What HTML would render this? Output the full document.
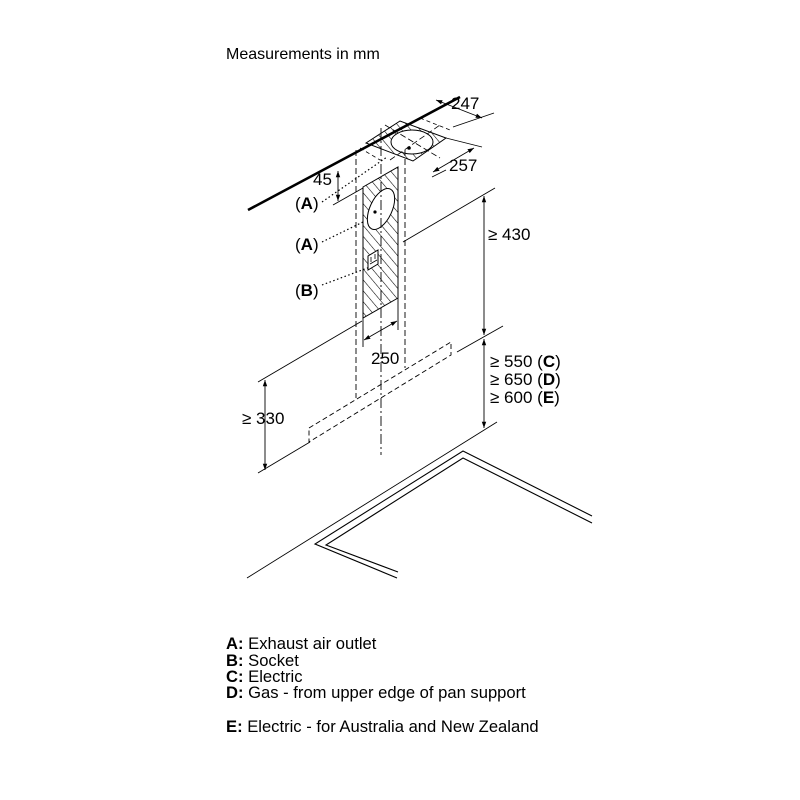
<!DOCTYPE html>
<html><head><meta charset="utf-8"><style>
html,body{margin:0;padding:0;background:#fff;}
svg{display:block;}
text{font-family:"Liberation Sans",Arial,sans-serif;fill:#000;}
</style></head><body>
<svg width="800" height="800" viewBox="0 0 800 800" xmlns="http://www.w3.org/2000/svg">
<defs>
<pattern id="h" patternUnits="userSpaceOnUse" width="7" height="7" patternTransform="rotate(-40)">
<line x1="0" y1="0" x2="0" y2="7" stroke="#000" stroke-width="1.1"/>
</pattern>
<marker id="ar" viewBox="0 0 10 10" refX="10" refY="5" markerWidth="7" markerHeight="7" orient="auto-start-reverse"><path d="M0,1.5 L10,5 L0,8.5 z" fill="#000"/></marker>
</defs>
<text x="226" y="59" font-size="16">Measurements in mm</text>

<!-- ceiling -->
<line x1="248" y1="210" x2="460" y2="97" stroke="#000" stroke-width="2.6"/>
<!-- ceiling plate -->
<polygon points="366,143 400,121 446,138 413,161" fill="url(#h)" stroke="#000" stroke-width="1"/>
<ellipse cx="412" cy="142" rx="21" ry="12" fill="#fff" stroke="#000" stroke-width="1"/>
<circle cx="409" cy="148" r="1.8" fill="#000"/>
<g stroke="#000" stroke-width="0.8" fill="none">
<line x1="385" y1="125" x2="440" y2="158" stroke-dasharray="6,3"/>
<line x1="390" y1="160" x2="440" y2="125" stroke-dasharray="6,3"/>
<line x1="360" y1="148" x2="380" y2="160" stroke-dasharray="4,3"/>
<line x1="420" y1="118" x2="450" y2="130" stroke-dasharray="4,3"/>
</g>
<!-- wall panel -->
<polygon points="363,187 398,167 398,298 363,318" fill="url(#h)" stroke="#000" stroke-width="1"/>
<ellipse cx="381" cy="209" rx="11" ry="22" transform="rotate(25 381 209)" fill="#fff" stroke="#000" stroke-width="1"/>
<circle cx="375" cy="212" r="1.6" fill="#000"/>
<polygon points="368,256 378,250 378,264 368,270" fill="#fff" stroke="#000" stroke-width="1"/>
<path d="M371,262 l0,-5 M375,259 l0,-5 M370,264 l7,-4" stroke="#000" stroke-width="0.8"/>

<!-- dashed verticals -->
<g stroke="#000" stroke-width="0.9" fill="none">
<line x1="356" y1="150" x2="356" y2="398" stroke-dasharray="6,3"/>
<line x1="405" y1="150" x2="405" y2="368" stroke-dasharray="6,3"/>
<line x1="381" y1="128" x2="381" y2="455" stroke-dasharray="10,3,2,3"/>
<polygon points="309,428 451,342 451,355 309,442" stroke-dasharray="5,3"/>
</g>

<!-- thin lines -->
<g stroke="#000" stroke-width="0.9" fill="none">
<line x1="258" y1="382" x2="362" y2="321"/>
<line x1="403" y1="242" x2="495" y2="188"/>
<line x1="258" y1="473" x2="310" y2="442"/>
<line x1="457" y1="352" x2="503" y2="326"/>
<line x1="247" y1="578" x2="497" y2="422"/>
<!-- hob -->
<polyline points="397,578 315,544 463,451 592,516" stroke-width="1.1"/>
<polyline points="398,572 326,545 463,458 592,523" stroke-width="1.1"/>
<!-- 45 -->
<line x1="333" y1="205" x2="363" y2="188"/>
<line x1="338" y1="171" x2="338" y2="201" marker-start="url(#ar)" marker-end="url(#ar)"/>
<!-- 430 / 550 -->
<line x1="484" y1="196" x2="484" y2="335" marker-start="url(#ar)" marker-end="url(#ar)"/>
<line x1="484" y1="339" x2="484" y2="428" marker-start="url(#ar)" marker-end="url(#ar)"/>
<!-- 330 -->
<line x1="265" y1="380" x2="265" y2="470" marker-start="url(#ar)" marker-end="url(#ar)"/>
<!-- 250 -->
<line x1="363" y1="318" x2="363" y2="347"/>
<line x1="398" y1="298" x2="398" y2="330"/>
<line x1="364" y1="340" x2="397" y2="321" marker-start="url(#ar)" marker-end="url(#ar)"/>
<!-- 247 -->
<line x1="453" y1="127" x2="494" y2="113"/>
<line x1="436" y1="100" x2="482" y2="118" marker-start="url(#ar)" marker-end="url(#ar)"/>
<!-- 257 -->
<line x1="432" y1="177" x2="446" y2="170"/>
<line x1="446" y1="138" x2="482" y2="147"/>
<line x1="433" y1="172" x2="474" y2="148" marker-start="url(#ar)" marker-end="url(#ar)"/>
</g>
<!-- dotted leaders -->
<g stroke="#000" stroke-width="1.2" stroke-dasharray="1.5,2.5" fill="none">
<line x1="322" y1="202" x2="387" y2="157"/>
<line x1="322" y1="242" x2="363" y2="222"/>
<line x1="322" y1="285" x2="370" y2="267"/>
</g>

<g font-size="17">
<text x="313" y="185">45</text>
<text x="295" y="209">(<tspan font-weight="bold">A</tspan>)</text>
<text x="295" y="250">(<tspan font-weight="bold">A</tspan>)</text>
<text x="295" y="296">(<tspan font-weight="bold">B</tspan>)</text>
<text x="451" y="109">247</text>
<text x="449" y="171">257</text>
<text x="488" y="240">≥ 430</text>
<text x="371" y="364">250</text>
<text x="242" y="424">≥ 330</text>
<text x="490" y="367">≥ 550 (<tspan font-weight="bold">C</tspan>)</text>
<text x="490" y="385">≥ 650 (<tspan font-weight="bold">D</tspan>)</text>
<text x="490" y="403">≥ 600 (<tspan font-weight="bold">E</tspan>)</text>
</g>
<g font-size="16.6">
<text x="226" y="649"><tspan font-weight="bold">A:</tspan> Exhaust air outlet</text>
<text x="226" y="666"><tspan font-weight="bold">B:</tspan> Socket</text>
<text x="226" y="682"><tspan font-weight="bold">C:</tspan> Electric</text>
<text x="226" y="698"><tspan font-weight="bold">D:</tspan> Gas - from upper edge of pan support</text>
<text x="226" y="732"><tspan font-weight="bold">E:</tspan> Electric - for Australia and New Zealand</text>
</g>
</svg>
</body></html>
